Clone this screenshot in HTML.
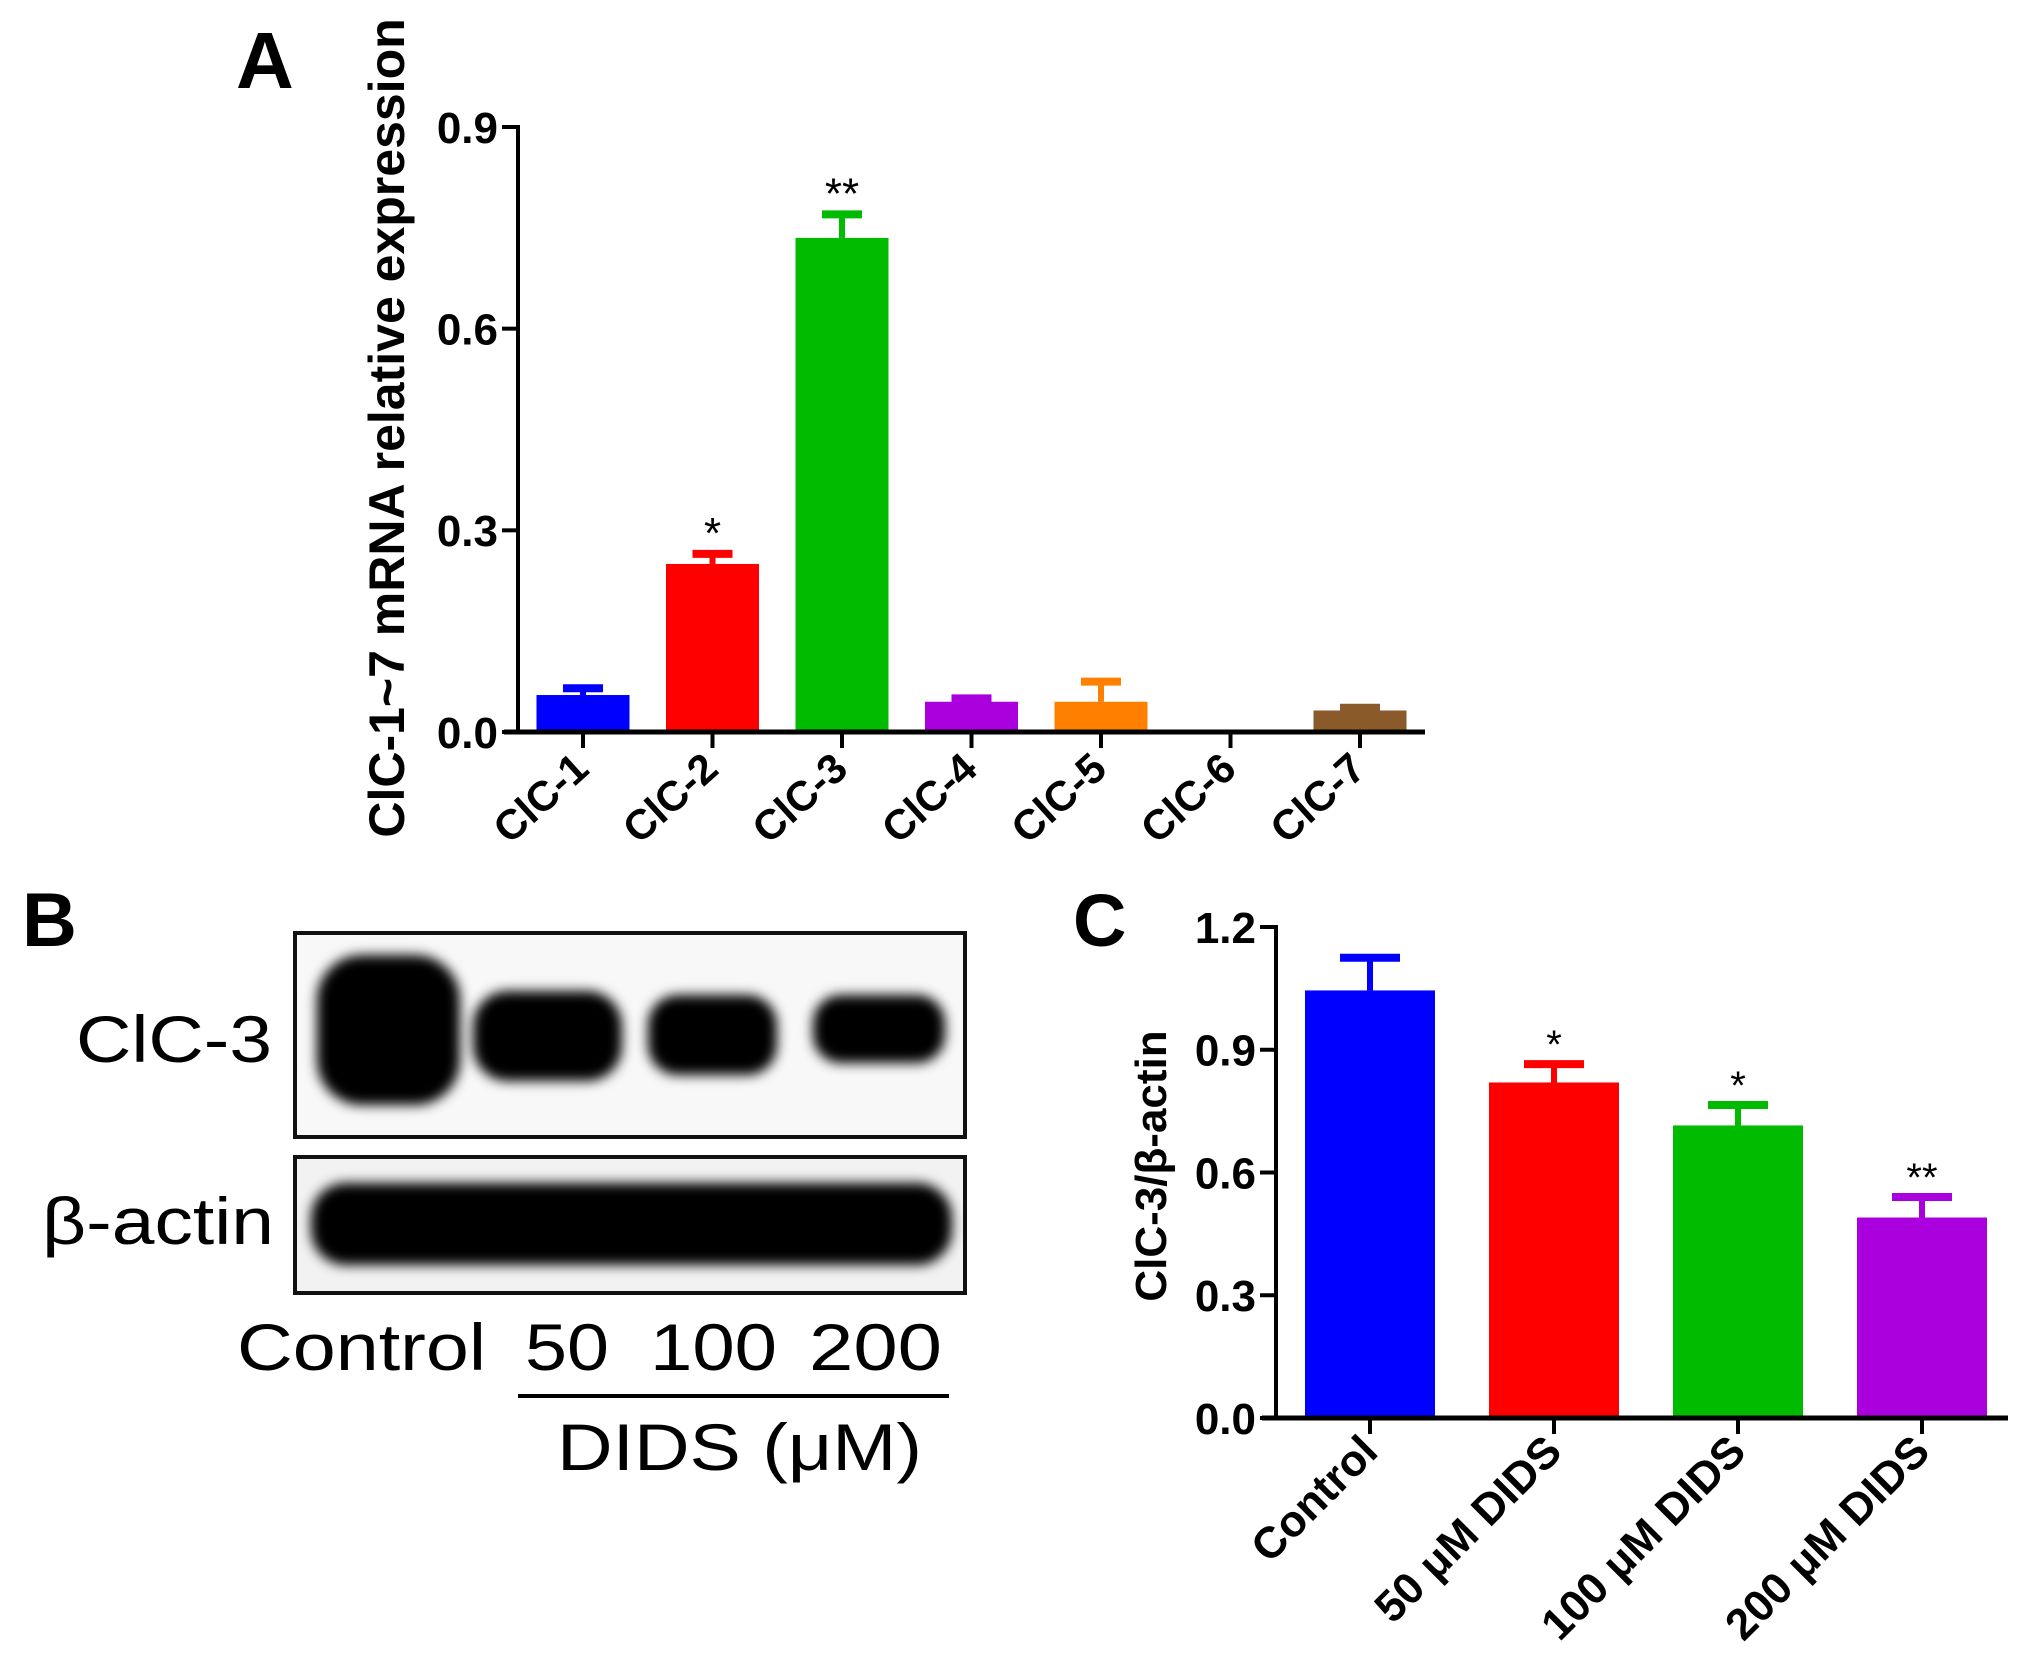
<!DOCTYPE html>
<html><head><meta charset="utf-8">
<style>
html,body{margin:0;padding:0;background:#fff;}
svg{display:block;}
text{font-family:"Liberation Sans",Arial,sans-serif;}
</style></head>
<body>
<svg id="fig" width="2031" height="1680" viewBox="0 0 2031 1680" xmlns="http://www.w3.org/2000/svg">
<defs>
<filter id="blur" x="-20%" y="-40%" width="140%" height="180%"><feGaussianBlur stdDeviation="6"/></filter>
</defs>
<!-- Panel A -->
<text x="236" y="88" font-size="80" font-weight="bold">A</text>
<g id="chartA"></g>
<!-- Panel B -->
<text x="22" y="946" font-size="76" font-weight="bold">B</text>
<g>
  <rect x="295" y="933" width="670" height="204" fill="#f8f8f8" stroke="#111" stroke-width="4"/>
  <g filter="url(#blur)">
    <rect x="317" y="955" width="143" height="150" rx="45" fill="#000"/>
    <rect x="473" y="991" width="149" height="90" rx="35" fill="#000"/>
    <rect x="648" y="995" width="129" height="80" rx="30" fill="#000"/>
    <rect x="813" y="995" width="132" height="68" rx="28" fill="#000"/>
  </g>
  <rect x="295" y="1157" width="670" height="136" fill="#f2f2f2" stroke="#111" stroke-width="4"/>
  <g filter="url(#blur)">
    <rect x="311" y="1183" width="641" height="82" rx="35" fill="#000"/>
  </g>
  <text x="272" y="1062" font-size="66" text-anchor="end" textLength="196" lengthAdjust="spacingAndGlyphs">ClC-3</text>
  <text x="274" y="1244" font-size="66" text-anchor="end" textLength="232" lengthAdjust="spacingAndGlyphs">β-actin</text>
  <text x="237" y="1370" font-size="66" textLength="249" lengthAdjust="spacingAndGlyphs">Control</text>
  <text x="525" y="1370" font-size="66" textLength="84" lengthAdjust="spacingAndGlyphs">50</text>
  <text x="650" y="1370" font-size="66" textLength="127" lengthAdjust="spacingAndGlyphs">100</text>
  <text x="809" y="1370" font-size="66" textLength="133" lengthAdjust="spacingAndGlyphs">200</text>
  <line x1="518" y1="1396" x2="949" y2="1396" stroke="#000" stroke-width="4"/>
  <text x="557" y="1470" font-size="66" textLength="365" lengthAdjust="spacingAndGlyphs">DIDS (μM)</text>
</g>
<!-- Panel C -->
<text x="1073" y="946" font-size="74" font-weight="bold">C</text>
<g id="chartC"></g>
</svg>
<script>
const catsA = ["ClC-1","ClC-2","ClC-3","ClC-4","ClC-5","ClC-6","ClC-7"];
const valsA = [0.055,0.25,0.735,0.045,0.045,0,0.032];
const errA = [0.065,0.265,0.77,0.05,0.075,0,0.036];
const sigA = ["","*","**","","","",""];
const colorsA = ["#0000ff","#ff0000","#00bb00","#aa00dd","#ff8000","#888888","#8b5a2b"];
const ticksA = [0,0.3,0.6,0.9];
const tickLabelsA = ["0.0","0.3","0.6","0.9"];

const catsC = ["Control","50 μM DIDS","100 μM DIDS","200 μM DIDS"];
const valsC = [1.045,0.82,0.715,0.49];
const errC = [1.125,0.865,0.765,0.54];
const sigC = ["","*","*","**"];
const colorsC = ["#0000ff","#ff0000","#00bb00","#aa00dd"];
const ticksC = [0,0.3,0.6,0.9,1.2];
const tickLabelsC = ["0.0","0.3","0.6","0.9","1.2"];

const NS="http://www.w3.org/2000/svg";
function mk(tag,attrs,parent){const e=document.createElementNS(NS,tag);for(const k in attrs)e.setAttribute(k,attrs[k]);parent.appendChild(e);return e;}

function drawChart(g,cfg){
  const y=v=>cfg.y0-(v/cfg.ymax)*(cfg.y0-cfg.ytop);
  const x=i=>cfg.x0+cfg.first+i*cfg.step;
  cfg.vals.forEach((v,i)=>{
    if(v>0){
      const cap=mk('line',{x1:x(i)-cfg.cap,x2:x(i)+cfg.cap,y1:y(cfg.err[i]),y2:y(cfg.err[i]),stroke:cfg.colors[i],'stroke-width':8},g);
      
      
      const st=mk('line',{x1:x(i),x2:x(i),y1:y(cfg.err[i]),y2:y(v),stroke:cfg.colors[i],'stroke-width':6},g);
      
      
      const b=mk('rect',{x:x(i)-cfg.bw/2,y:y(v),width:cfg.bw,height:y(0)-y(v),fill:cfg.colors[i]},g);
      
      
    }
    if(cfg.sig[i]){
      const t=mk('text',{x:x(i),y:y(cfg.err[i])+cfg.sigdy,'font-size':cfg.sigfs,'text-anchor':'middle'},g);
      t.textContent=cfg.sig[i];
      
      
    }
    const tk=mk('line',{x1:x(i),x2:x(i),y1:cfg.y0,y2:cfg.y0+16,stroke:'#000','stroke-width':4},g);
    
    
    const lx=x(i)+cfg.lx, ly=cfg.y0+cfg.ly;
    const lt=mk('text',{x:lx,y:ly,'font-size':cfg.xfs,'font-weight':'bold','text-anchor':'end',transform:`rotate(${cfg.rot} ${lx} ${ly})`},g);
    lt.textContent=cfg.cats[i];
    
    
  });
  const ya=mk('line',{x1:cfg.x0,x2:cfg.x0,y1:cfg.ytop-2,y2:cfg.y0+2,stroke:'#000','stroke-width':4},g);
  
  
  const xa=mk('line',{x1:cfg.x0-14,x2:cfg.xend,y1:cfg.y0,y2:cfg.y0,stroke:'#000','stroke-width':5},g);
  
  
  cfg.ticks.forEach((t,i)=>{
    const l=mk('line',{x1:cfg.x0-16,x2:cfg.x0,y1:y(t),y2:y(t),stroke:'#000','stroke-width':4},g);
    
    
    const tx=mk('text',{x:cfg.x0-20,y:y(t)+cfg.yfs*0.36,'font-size':cfg.yfs,'font-weight':'bold','text-anchor':'end'},g);
    tx.textContent=cfg.tickLabels[i];
    
    
  });
  const tt=mk('text',{x:cfg.tx,y:cfg.ty,'font-size':cfg.tfs,'font-weight':'bold','text-anchor':'middle',transform:`rotate(-90 ${cfg.tx} ${cfg.ty})`},g);
  tt.textContent=cfg.title;
  
  
}

drawChart(document.getElementById('chartA'),{
  cats:catsA,vals:valsA,err:errA,sig:sigA,colors:colorsA,ticks:ticksA,tickLabels:tickLabelsA,
  x0:518,xend:1425,first:65,step:129.5,bw:93,cap:20,y0:732,ytop:127,ymax:0.9,
  sigdy:-6,sigfs:44,yfs:44,xfs:42,lx:8,ly:40,rot:-42,
  title:"ClC-1~7 mRNA relative expression",tx:404,ty:428,tfs:50
});
drawChart(document.getElementById('chartC'),{
  cats:catsC,vals:valsC,err:errC,sig:sigC,colors:colorsC,ticks:ticksC,tickLabels:tickLabelsC,
  x0:1276,xend:2008,first:94,step:184,bw:130,cap:30,y0:1418,ytop:927,ymax:1.2,
  sigdy:-6,sigfs:40,yfs:44,xfs:44,lx:10,ly:36,rot:-45,
  title:"ClC-3/β-actin",tx:1166,ty:1166,tfs:44
});
</script>
</body></html>
